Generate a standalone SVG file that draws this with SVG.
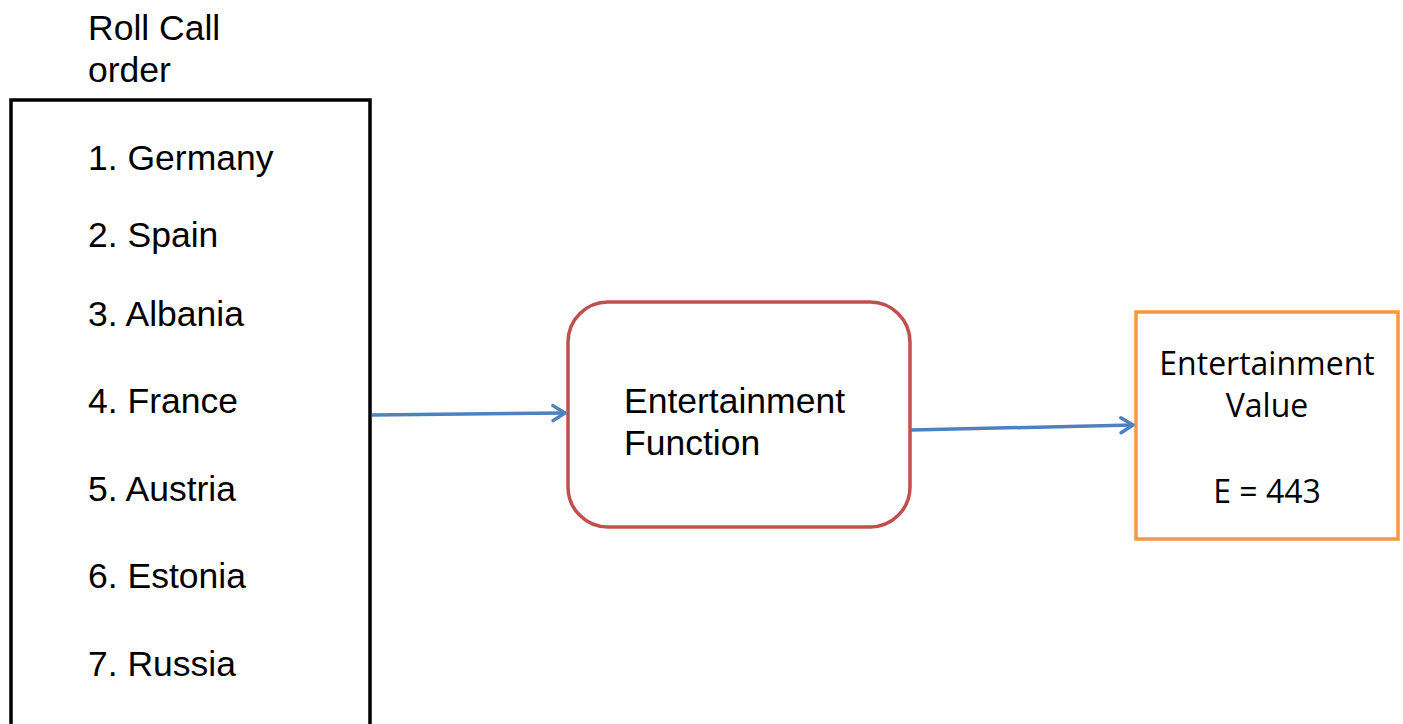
<svg xmlns="http://www.w3.org/2000/svg" width="1403" height="724" viewBox="0 0 1403 724">
<defs>
<style>
.t{font-family:"Liberation Sans",Arial,sans-serif;font-size:35.5px;fill:#000}
.c{font-family:"Open Sans","Liberation Sans",sans-serif;font-size:32px;fill:#000;text-anchor:middle}
.conn{stroke:#4f81bd;stroke-width:3.5;fill:none}
</style>
<marker id="ah" viewBox="0 0 20 20" refX="16" refY="10" markerWidth="20" markerHeight="20" markerUnits="userSpaceOnUse" orient="auto">
<path d="M4,2.5 L16,10 L4,17.5" fill="none" stroke="#4f81bd" stroke-width="3.5" stroke-linecap="round" stroke-linejoin="round"/>
</marker>
</defs>
<rect width="1403" height="724" fill="#fff"/>
<g id="title">
<text class="t" x="88" y="40">Roll Call</text>
<text class="t" x="88" y="82">order</text>
</g>
<g id="rollcall">
<path d="M11,730 L11,100 L370,100 L370,730" fill="none" stroke="#000" stroke-width="3.5"/>
<text class="t" x="88" y="170">1. Germany</text>
<text class="t" x="88" y="247">2. Spain</text>
<text class="t" x="88" y="326">3. Albania</text>
<text class="t" x="88" y="413">4. France</text>
<text class="t" x="88" y="501">5. Austria</text>
<text class="t" x="88" y="588">6. Estonia</text>
<text class="t" x="88" y="676">7. Russia</text>
</g>
<g id="function">
<rect x="568" y="302" width="342" height="225" rx="40" ry="40" fill="#fff" stroke="#c0504d" stroke-width="3.5"/>
<text class="t" x="624" y="413">Entertainment</text>
<text class="t" x="624" y="455">Function</text>
</g>
<g id="value">
<rect x="1136" y="312" width="262" height="227" fill="#fff" stroke="#f79646" stroke-width="3.5"/>
<text class="c" x="1267" y="375">Entertainment</text>
<text class="c" x="1267" y="417">Value</text>
<text class="c" x="1267" y="503">E = 443</text>
</g>
<g id="connectors">
<line class="conn" x1="372" y1="415" x2="565" y2="413" marker-end="url(#ah)"/>
<line class="conn" x1="911" y1="430" x2="1133" y2="425" marker-end="url(#ah)"/>
</g>
</svg>
